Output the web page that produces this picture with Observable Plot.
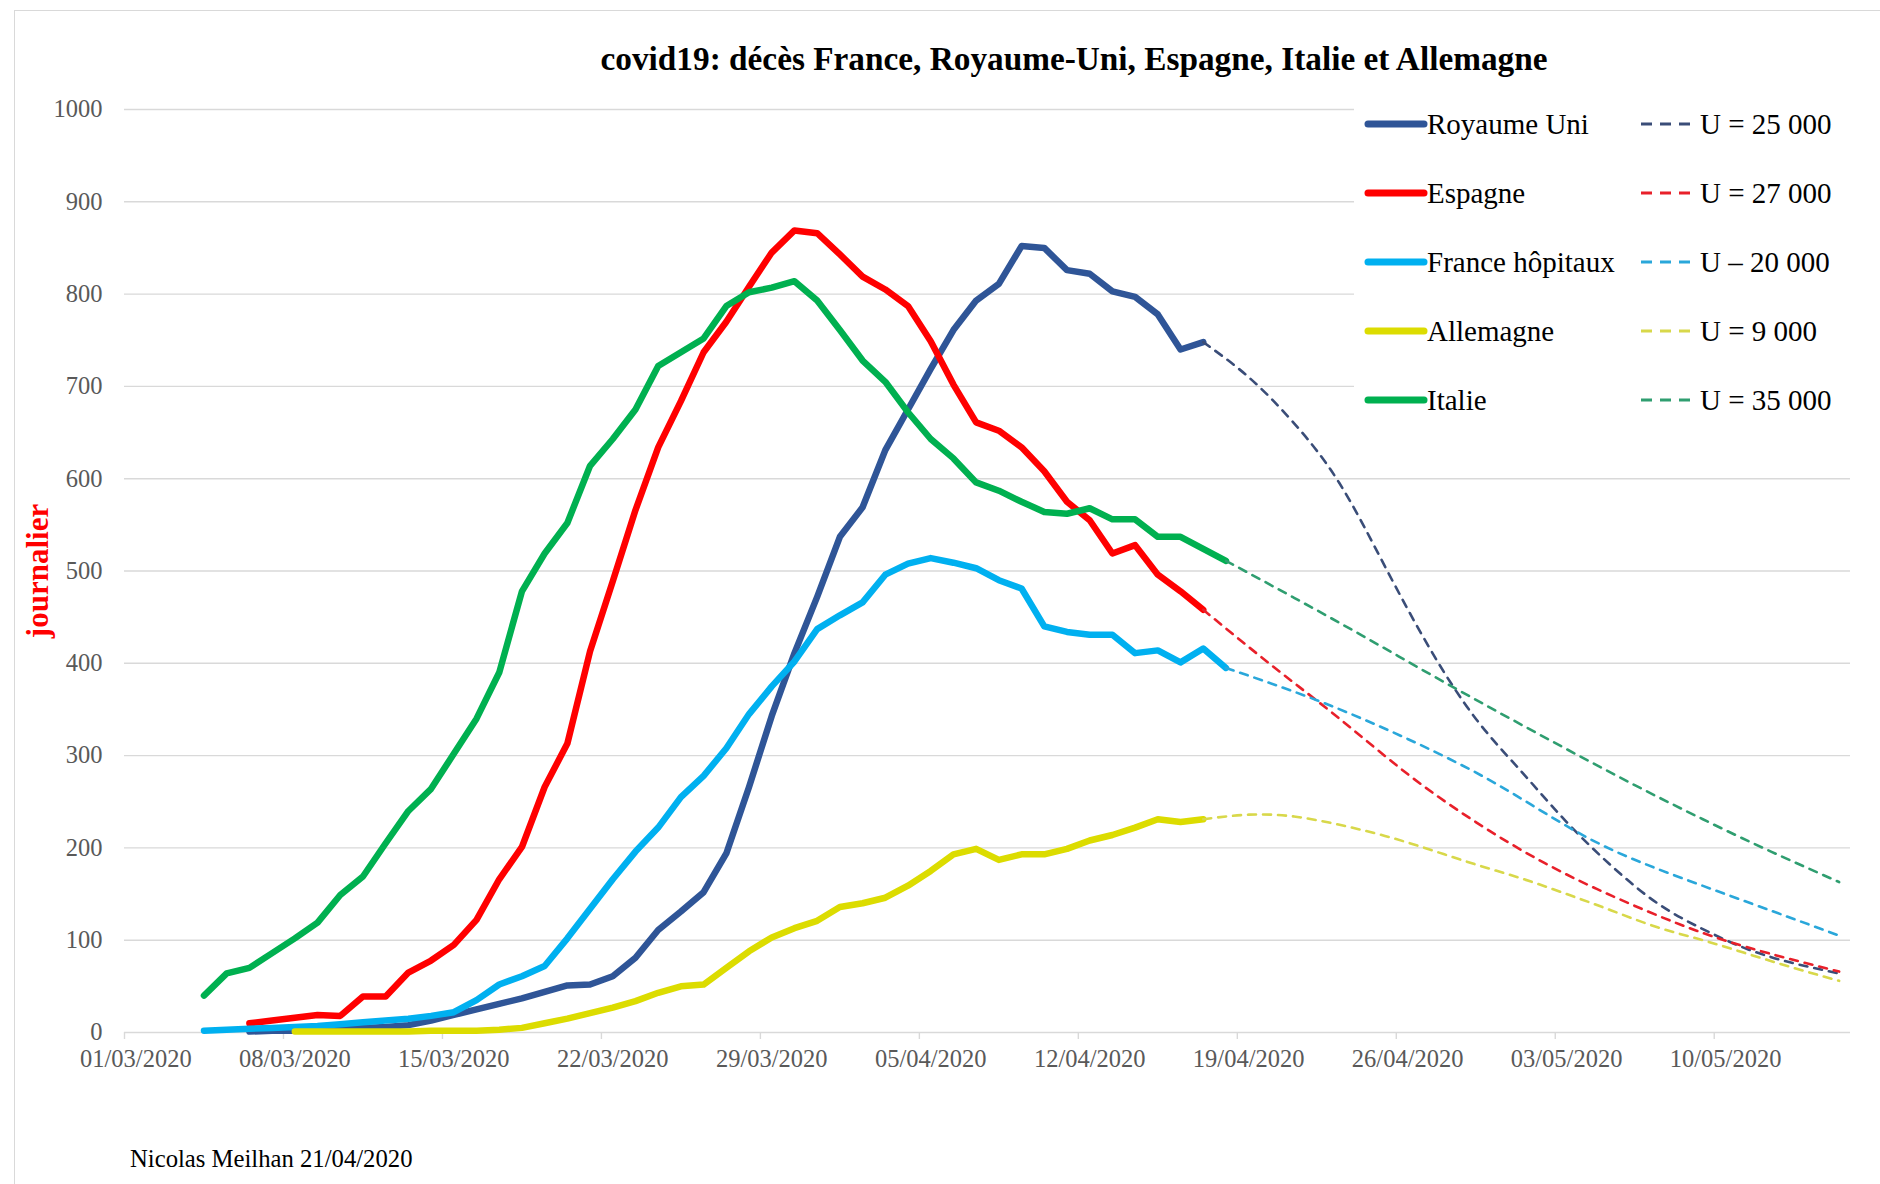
<!DOCTYPE html>
<html><head><meta charset="utf-8">
<script src="https://cdn.jsdelivr.net/npm/d3@7"></script>
<script src="https://cdn.jsdelivr.net/npm/@observablehq/plot@0.6"></script>
<style>
body{margin:0;background:#fff;}
#wrap{position:relative;width:1880px;height:1184px;overflow:hidden;background:#fff;font-family:"Liberation Serif","Times New Roman",serif;}
#frame{position:absolute;left:14px;top:10px;width:1870px;height:1200px;border:1.5px solid #d9d9d9;box-sizing:border-box;}
#chart{position:absolute;left:0;top:0;}
#title{position:absolute;top:40px;left:0;width:2148px;text-align:center;font-weight:bold;font-size:33.3px;color:#000;white-space:nowrap;line-height:38px;}
#legend{position:absolute;left:1354px;top:95px;width:496px;height:330px;background:#fff;}
.lg{position:absolute;font-size:29px;color:#000;white-space:nowrap;line-height:32px;}
#footer{position:absolute;left:130px;top:1144px;font-size:24.7px;color:#000;white-space:nowrap;line-height:30px;}
</style></head>
<body><div id="wrap"><div id="frame"></div><div id="chart"></div><div id="title"></div><div id="legend"></div><div id="footer"></div></div>
<script>
// ---------- data ----------
const titleText = "covid19: décès France, Royaume-Uni, Espagne, Italie et Allemagne";
const yLabel = "journalier";
const footerText = "Nicolas Meilhan 21/04/2020";
const xTickLabels = ["01/03/2020","08/03/2020","15/03/2020","22/03/2020","29/03/2020","05/04/2020","12/04/2020","19/04/2020","26/04/2020","03/05/2020","10/05/2020"];
const yTicks = [0,100,200,300,400,500,600,700,800,900,1000];
const xDomain = ["2020-03-01","2020-05-16"];

const seriesNames = ["Royaume Uni","Espagne","France hôpitaux","Allemagne","Italie"];
const projLabels = ["U = 25 000","U = 27 000","U – 20 000","U = 9 000","U = 35 000"];

// observed daily values (first value on the "From" date, then one per day)
const royaumeUniFrom = "2020-03-06";
const royaumeUni = [1,2,2,3,4,5,6,8,13,19,25,31,37,44,51,52,61,81,111,131,152,194,266,343,411,472,537,569,631,675,719,761,793,811,852,850,826,822,803,797,778,740,748];
const espagneFrom = "2020-03-06";
const espagne = [10,13,16,19,18,39,39,65,78,95,122,166,201,266,313,413,489,566,634,684,737,770,808,845,869,866,843,819,805,787,749,702,661,652,634,608,575,555,519,528,496,478,458];
const franceFrom = "2020-03-04";
const france = [2,3,4,5,6,7,9,11,13,15,18,22,35,52,61,72,102,134,166,196,222,255,278,308,345,375,402,437,452,466,496,508,514,509,503,490,481,440,434,431,431,411,414,401,416,395];
const allemagneFrom = "2020-03-08";
const allemagne = [1,1,1,1,1,1,2,2,2,3,5,10,15,21,27,34,43,50,52,70,88,103,113,121,136,140,146,159,175,193,199,187,193,193,199,208,214,222,231,228,231];
const italieFrom = "2020-03-04";
const italie = [40,64,70,86,102,119,149,169,205,240,264,302,340,390,478,519,552,614,643,675,722,737,752,787,802,807,814,793,761,728,705,672,643,622,596,587,575,564,562,568,556,556,537,537,524,511];

// projections (dashed), read at selected days
const royaumeUniProjDates = ["2020-04-17","2020-04-19","2020-04-21","2020-04-23","2020-04-25","2020-04-27","2020-04-29","2020-05-01","2020-05-03","2020-05-05","2020-05-07","2020-05-09","2020-05-11","2020-05-13","2020-05-15"];
const royaumeUniProj = [748,710,660,595,505,415,340,283,228,180,140,112,90,75,64];
const espagneProjDates = ["2020-04-17","2020-04-20","2020-04-23","2020-04-26","2020-04-29","2020-05-02","2020-05-05","2020-05-08","2020-05-11","2020-05-15"];
const espagneProj = [458,398,340,280,228,184,148,117,92,66];
const franceProjDates = ["2020-04-18","2020-04-22","2020-04-26","2020-04-30","2020-05-04","2020-05-08","2020-05-12","2020-05-15"];
const franceProj = [395,360,318,268,210,168,132,105];
const allemagneProjDates = ["2020-04-17","2020-04-19","2020-04-21","2020-04-23","2020-04-25","2020-04-27","2020-04-29","2020-05-01","2020-05-03","2020-05-05","2020-05-07","2020-05-09","2020-05-11","2020-05-13","2020-05-15"];
const allemagneProj = [231,236,234,225,213,198,182,167,150,132,114,100,85,70,56];
const italieProjDates = ["2020-04-18","2020-04-21","2020-04-24","2020-04-27","2020-04-30","2020-05-03","2020-05-06","2020-05-09","2020-05-12","2020-05-15"];
const italieProj = [511,471,430,388,347,307,268,231,196,163];

// ---------- styles ----------
const solidColors = ["#2F5597","#FF0000","#00B0F0","#DCDC00","#00B050"];
const dashColors = ["#3A4D78","#E8202A","#2AA7DA","#D8D84A","#2F9E70"];

// ---------- build ----------
const noon = iso => new Date(iso + "T12:00:00Z");
const addDays = (d, k) => new Date(d.getTime() + k * 864e5);
const parseFr = s => { const [dd, mm, yy] = s.split("/"); return `${yy}-${mm}-${dd}`; };
const daily = (from, vals, name) => vals.map((v, i) => ({date: addDays(noon(from), i), value: v, serie: name}));
const proj = (dates, vals, name) => dates.map((d, i) => ({date: noon(d), value: vals[i], serie: name}));

const observed = [
  daily(royaumeUniFrom, royaumeUni, seriesNames[0]),
  daily(espagneFrom, espagne, seriesNames[1]),
  daily(franceFrom, france, seriesNames[2]),
  daily(allemagneFrom, allemagne, seriesNames[3]),
  daily(italieFrom, italie, seriesNames[4])
];
const projected = [
  proj(royaumeUniProjDates, royaumeUniProj, seriesNames[0]),
  proj(espagneProjDates, espagneProj, seriesNames[1]),
  proj(franceProjDates, franceProj, seriesNames[2]),
  proj(allemagneProjDates, allemagneProj, seriesNames[3]),
  proj(italieProjDates, italieProj, seriesNames[4])
];

const labelDates = xTickLabels.map(s => noon(parseFr(s)));
const boundaryDates = xTickLabels.map(s => new Date(parseFr(s) + "T00:00:00Z"));

const H = 1100;
const chart = Plot.plot({
  width: 1880, height: H,
  marginLeft: 124, marginRight: 30, marginTop: 109, marginBottom: H - 1032,
  style: {fontFamily: '"Liberation Serif","Times New Roman",serif', background: "transparent", overflow: "visible"},
  x: {type: "utc", domain: xDomain.map(d => new Date(d + "T00:00:00Z")), label: null},
  y: {domain: [0, 1000], label: null},
  marks: [
    Plot.gridY(yTicks, {stroke: "#d9d9d9", strokeOpacity: 1, strokeWidth: 1.4}),
    Plot.axisY(yTicks, {tickSize: 0, tickPadding: 22, fontSize: 24.5, fill: "#595959", label: null, tickFormat: d => String(d)}),
    Plot.axisX(boundaryDates, {tickSize: 7, stroke: "#d9d9d9", strokeWidth: 1.4, tickFormat: () => "", label: null}),
    Plot.axisX(labelDates, {tickSize: 0, tickPadding: 17, fontSize: 24.5, fill: "#595959", tickFormat: "%d/%m/%Y", label: null}),
    Plot.text([yLabel], {frameAnchor: "left", dx: -86, dy: 0, rotate: -90, textAnchor: "middle", fill: "#FF0000", fontWeight: "bold", fontSize: 31}),
    ...observed.map((data, i) => Plot.line(data, {x: "date", y: "value", stroke: solidColors[i], strokeWidth: 6.5, strokeLinejoin: "round", strokeLinecap: "round"})),
    ...projected.map((data, i) => Plot.line(data, {x: "date", y: "value", stroke: dashColors[i], strokeWidth: 2.6, strokeDasharray: "8,7", curve: "natural"}))
  ]
});
document.getElementById("chart").appendChild(chart);

document.getElementById("title").textContent = titleText;
document.getElementById("footer").textContent = footerText;

// legend
const lg = document.getElementById("legend");
const ox = 1354, oy = 95;
seriesNames.forEach((name, i) => {
  const cy = 124 + 69.1 * i - oy;
  const sw = `<svg style="position:absolute;left:${1363 - ox}px;top:${cy - 6}px" width="66" height="12"><line x1="5" y1="6" x2="61" y2="6" stroke="${solidColors[i]}" stroke-width="7" stroke-linecap="round"/></svg>`;
  const ds = `<svg style="position:absolute;left:${1640 - ox}px;top:${cy - 4}px" width="58" height="8"><line x1="1" y1="4" x2="57" y2="4" stroke="${dashColors[i]}" stroke-width="3" stroke-dasharray="11,8"/></svg>`;
  lg.insertAdjacentHTML("beforeend", sw + ds +
    `<div class="lg" style="left:${1427 - ox}px;top:${cy - 16}px">${name}</div>` +
    `<div class="lg" style="left:${1700 - ox}px;top:${cy - 16}px">${projLabels[i]}</div>`);
});
</script></body></html>
